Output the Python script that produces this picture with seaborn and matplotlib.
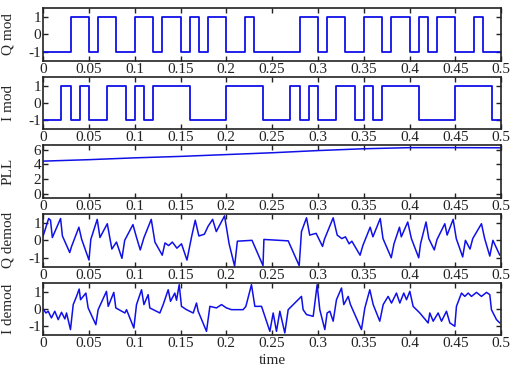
import numpy as np
import pandas as pd
import matplotlib
matplotlib.use("Agg")
import matplotlib.pyplot as plt
from matplotlib.ticker import FuncFormatter
import seaborn as sns

# bit values per 0.01 s slot (50 slots from 0 to 0.5)
q_bits = [-1, -1, -1, 1, 1, -1, 1, 1, -1, -1,
          1, 1, -1, 1, 1, -1, 1, -1, 1, 1,
          -1, -1, 1, -1, -1, -1, -1, -1, 1, 1,
          -1, 1, 1, -1, -1, 1, 1, -1, 1, 1,
          -1, 1, -1, 1, 1, -1, -1, 1, -1, -1]
i_bits = [-1, -1, 1, -1, 1, -1, -1, 1, 1, -1,
          1, -1, 1, 1, 1, 1, -1, -1, -1, -1,
          1, 1, 1, 1, -1, -1, -1, 1, -1, 1,
          -1, -1, 1, 1, -1, 1, -1, 1, 1, 1,
          1, -1, -1, -1, -1, 1, 1, 1, 1, -1]
bit_t = [k / 100 for k in range(51)]

pll_t = [0, 0.05, 0.1, 0.15, 0.2, 0.25, 0.3, 0.35, 0.4, 0.45, 0.5]
pll_v = [4.45, 4.65, 4.9, 5.1, 5.35, 5.6, 5.9, 6.15, 6.3, 6.3, 6.28]

qd_t = [0.000, 0.006, 0.008, 0.010, 0.019, 0.021, 0.029, 0.031, 0.039, 0.042,
        0.050, 0.052, 0.059, 0.062, 0.070, 0.075, 0.080, 0.086, 0.089, 0.098,
        0.102, 0.106, 0.110, 0.118, 0.122, 0.130, 0.133, 0.137, 0.141, 0.146,
        0.151, 0.157, 0.162, 0.166, 0.170, 0.176, 0.180, 0.185, 0.189, 0.198,
        0.203, 0.209, 0.212, 0.228, 0.240, 0.241, 0.2675, 0.2795, 0.282, 0.2875,
        0.291, 0.298, 0.305, 0.307, 0.3166, 0.321, 0.326, 0.330, 0.334, 0.337,
        0.346, 0.349, 0.357, 0.360, 0.368, 0.371, 0.380, 0.383, 0.389, 0.391,
        0.398, 0.402, 0.410, 0.412, 0.418, 0.421, 0.427, 0.430, 0.4385, 0.441,
        0.4476, 0.451, 0.458, 0.461, 0.466, 0.469, 0.4785, 0.482, 0.4876, 0.491,
        0.4985]
qd_v = [0.26, 1.25, 1.15, 0.16, 1.25, 0.25, -0.70, -0.35, 0.75, 0.06,
        -1.13, 0.05, 1.20, 0.16, 0.95, -0.50, -0.10, -1.03, 0.0, 0.90,
        0.15, -0.55, 0.15, 1.20, -0.10, -0.85, -0.15, -0.30, -0.10, -0.45,
        -0.20, -1.13, 0.20, 1.15, 0.25, 0.35, 0.80, 1.20, 0.50, 1.40,
        -0.20, -1.48, -0.05, 0.00, -1.45, 0.05, -0.03, -1.45, 0.50, 1.29,
        0.30, 0.40, -0.35, 0.05, 1.29, 0.30, 0.10, 0.20, -0.20, -0.05,
        -0.85, -0.30, 0.75, 0.20, 1.25, 0.10, -1.00, -0.20, 0.75, 0.20,
        1.05, 0.10, -1.00, -0.20, 1.05, 0.10, -0.55, 0.05, 0.95, 0.30,
        1.20, 0.10, -0.95, 0.00, -0.50, 0.10, 0.95, 0.10, -0.90, 0.00,
        -0.85]

id_t = [0.000, 0.003, 0.0055, 0.009, 0.0127, 0.0164, 0.020, 0.0237, 0.0255, 0.0298,
        0.0328, 0.0364, 0.0393, 0.0408, 0.0466, 0.0491, 0.0575, 0.060, 0.0691, 0.071,
        0.0771, 0.0793, 0.0892, 0.091, 0.099, 0.1019, 0.1074, 0.110, 0.1146, 0.1164,
        0.1274, 0.131, 0.1365, 0.139, 0.1437, 0.1456, 0.1485, 0.151, 0.1565, 0.1638,
        0.1674, 0.1692, 0.1783, 0.182, 0.1892, 0.1947, 0.2001, 0.2056, 0.2183, 0.2213,
        0.2274, 0.2311, 0.2384, 0.2475, 0.2511, 0.2547, 0.2584, 0.2638, 0.2675, 0.2747,
        0.282, 0.2838, 0.2875, 0.2948, 0.2991, 0.302, 0.3075, 0.310, 0.313, 0.3166,
        0.3202, 0.3257, 0.3282, 0.333, 0.3355, 0.3475, 0.3512, 0.3566, 0.3603, 0.3675,
        0.3712, 0.3766, 0.3803, 0.3857, 0.3894, 0.3937, 0.3967, 0.4003, 0.4039, 0.4112,
        0.4203, 0.4221, 0.4258, 0.4312, 0.4349, 0.4403, 0.444, 0.4494, 0.4512, 0.4567,
        0.4603, 0.464, 0.4676, 0.4731, 0.4785, 0.484, 0.4876, 0.4894, 0.4949, 0.4985]
id_v = [0.00, -0.23, -0.13, -0.51, -0.13, -0.61, -0.19, -0.57, -0.23, -1.18,
        0.25, 0.72, 1.14, 0.53, 0.91, 0.06, -0.90, -0.04, 1.01, 0.15,
        0.95, 0.06, -0.23, -0.04, -1.09, 0.25, 1.10, 0.25, 0.82, 0.06,
        -0.23, 0.25, 1.10, 0.44, 0.91, 0.50, 1.39, 0.15, -0.04, -0.23,
        0.34, -0.13, -1.28, 0.15, 0.06, 0.25, 0.06, -0.04, -0.04, 0.15,
        1.39, 0.15, 0.15, -1.28, -0.23, -1.28, -0.13, -1.37, -0.04, 0.34,
        0.72, -0.04, -0.32, -0.42, 1.39, -0.04, -1.18, -0.23, -0.13, -0.70,
        0.53, 1.20, 0.25, 0.72, 0.25, -1.18, 0.06, 1.10, 0.25, -0.70,
        0.25, 0.72, 0.34, 0.91, 0.34, 0.91, 0.53, 1.01, 0.15, -0.23,
        -0.80, -0.23, -0.70, -0.23, -0.70, -0.13, -0.80, -0.99, 0.15, 0.91,
        0.72, 0.91, 0.72, 0.95, 0.72, 0.95, 0.82, -0.04, -0.61, -0.80]

sns.set_style("ticks")
plt.rcParams['font.family'] = ['Liberation Serif', 'DejaVu Serif']
plt.rcParams['axes.unicode_minus'] = False
plt.rcParams['font.size'] = 11

blue = '#1010e8'

fig, axes = plt.subplots(5, 1, figsize=(5.14, 3.72), dpi=100)
fig.subplots_adjust(left=0.084, right=0.975, top=0.978, bottom=0.099, hspace=0.31)

panels = [
    (pd.DataFrame({'t': bit_t, 'v': q_bits + [q_bits[-1]]}), 'Q mod', True, (-1.5, 1.5), [-1, 0, 1]),
    (pd.DataFrame({'t': bit_t, 'v': i_bits + [i_bits[-1]]}), 'I mod', True, (-1.5, 1.5), [-1, 0, 1]),
    (pd.DataFrame({'t': pll_t, 'v': pll_v}), 'PLL', False, (-0.6, 6.6), [0, 2, 4, 6]),
    (pd.DataFrame({'t': qd_t, 'v': qd_v}), 'Q demod', False, (-1.5, 1.5), [-1, 0, 1]),
    (pd.DataFrame({'t': id_t, 'v': id_v}), 'I demod', False, (-1.5, 1.5), [-1, 0, 1]),
]

fmt = FuncFormatter(lambda x, pos: '%g' % round(x, 2))

for ax, (df, name, steps, ylim, yt) in zip(axes, panels):
    if steps:
        sns.lineplot(data=df, x='t', y='v', ax=ax, color=blue, lw=1.3,
                     estimator=None, drawstyle='steps-post')
    else:
        sns.lineplot(data=df, x='t', y='v', ax=ax, color=blue, lw=1.1, estimator=None)
    ax.set_xlim(0, 0.5)
    ax.set_ylim(*ylim)
    ax.set_yticks(yt)
    ax.set_xticks(np.arange(0, 0.501, 0.05))
    ax.xaxis.set_major_formatter(fmt)
    ax.tick_params(direction='in', top=True, right=True, length=3.5, width=1.0,
                   labelsize=11, pad=1.5, colors='#222222')
    for s in ax.spines.values():
        s.set_linewidth(1.2)
        s.set_color('#222222')
    ax.set_ylabel(name, fontsize=11, labelpad=2)
    ax.set_xlabel('')

axes[-1].set_xlabel('time', fontsize=11, labelpad=3)
for ax in axes:
    ax.yaxis.set_label_coords(-0.062, 0.5)

fig.savefig('out.png', dpi=100)
